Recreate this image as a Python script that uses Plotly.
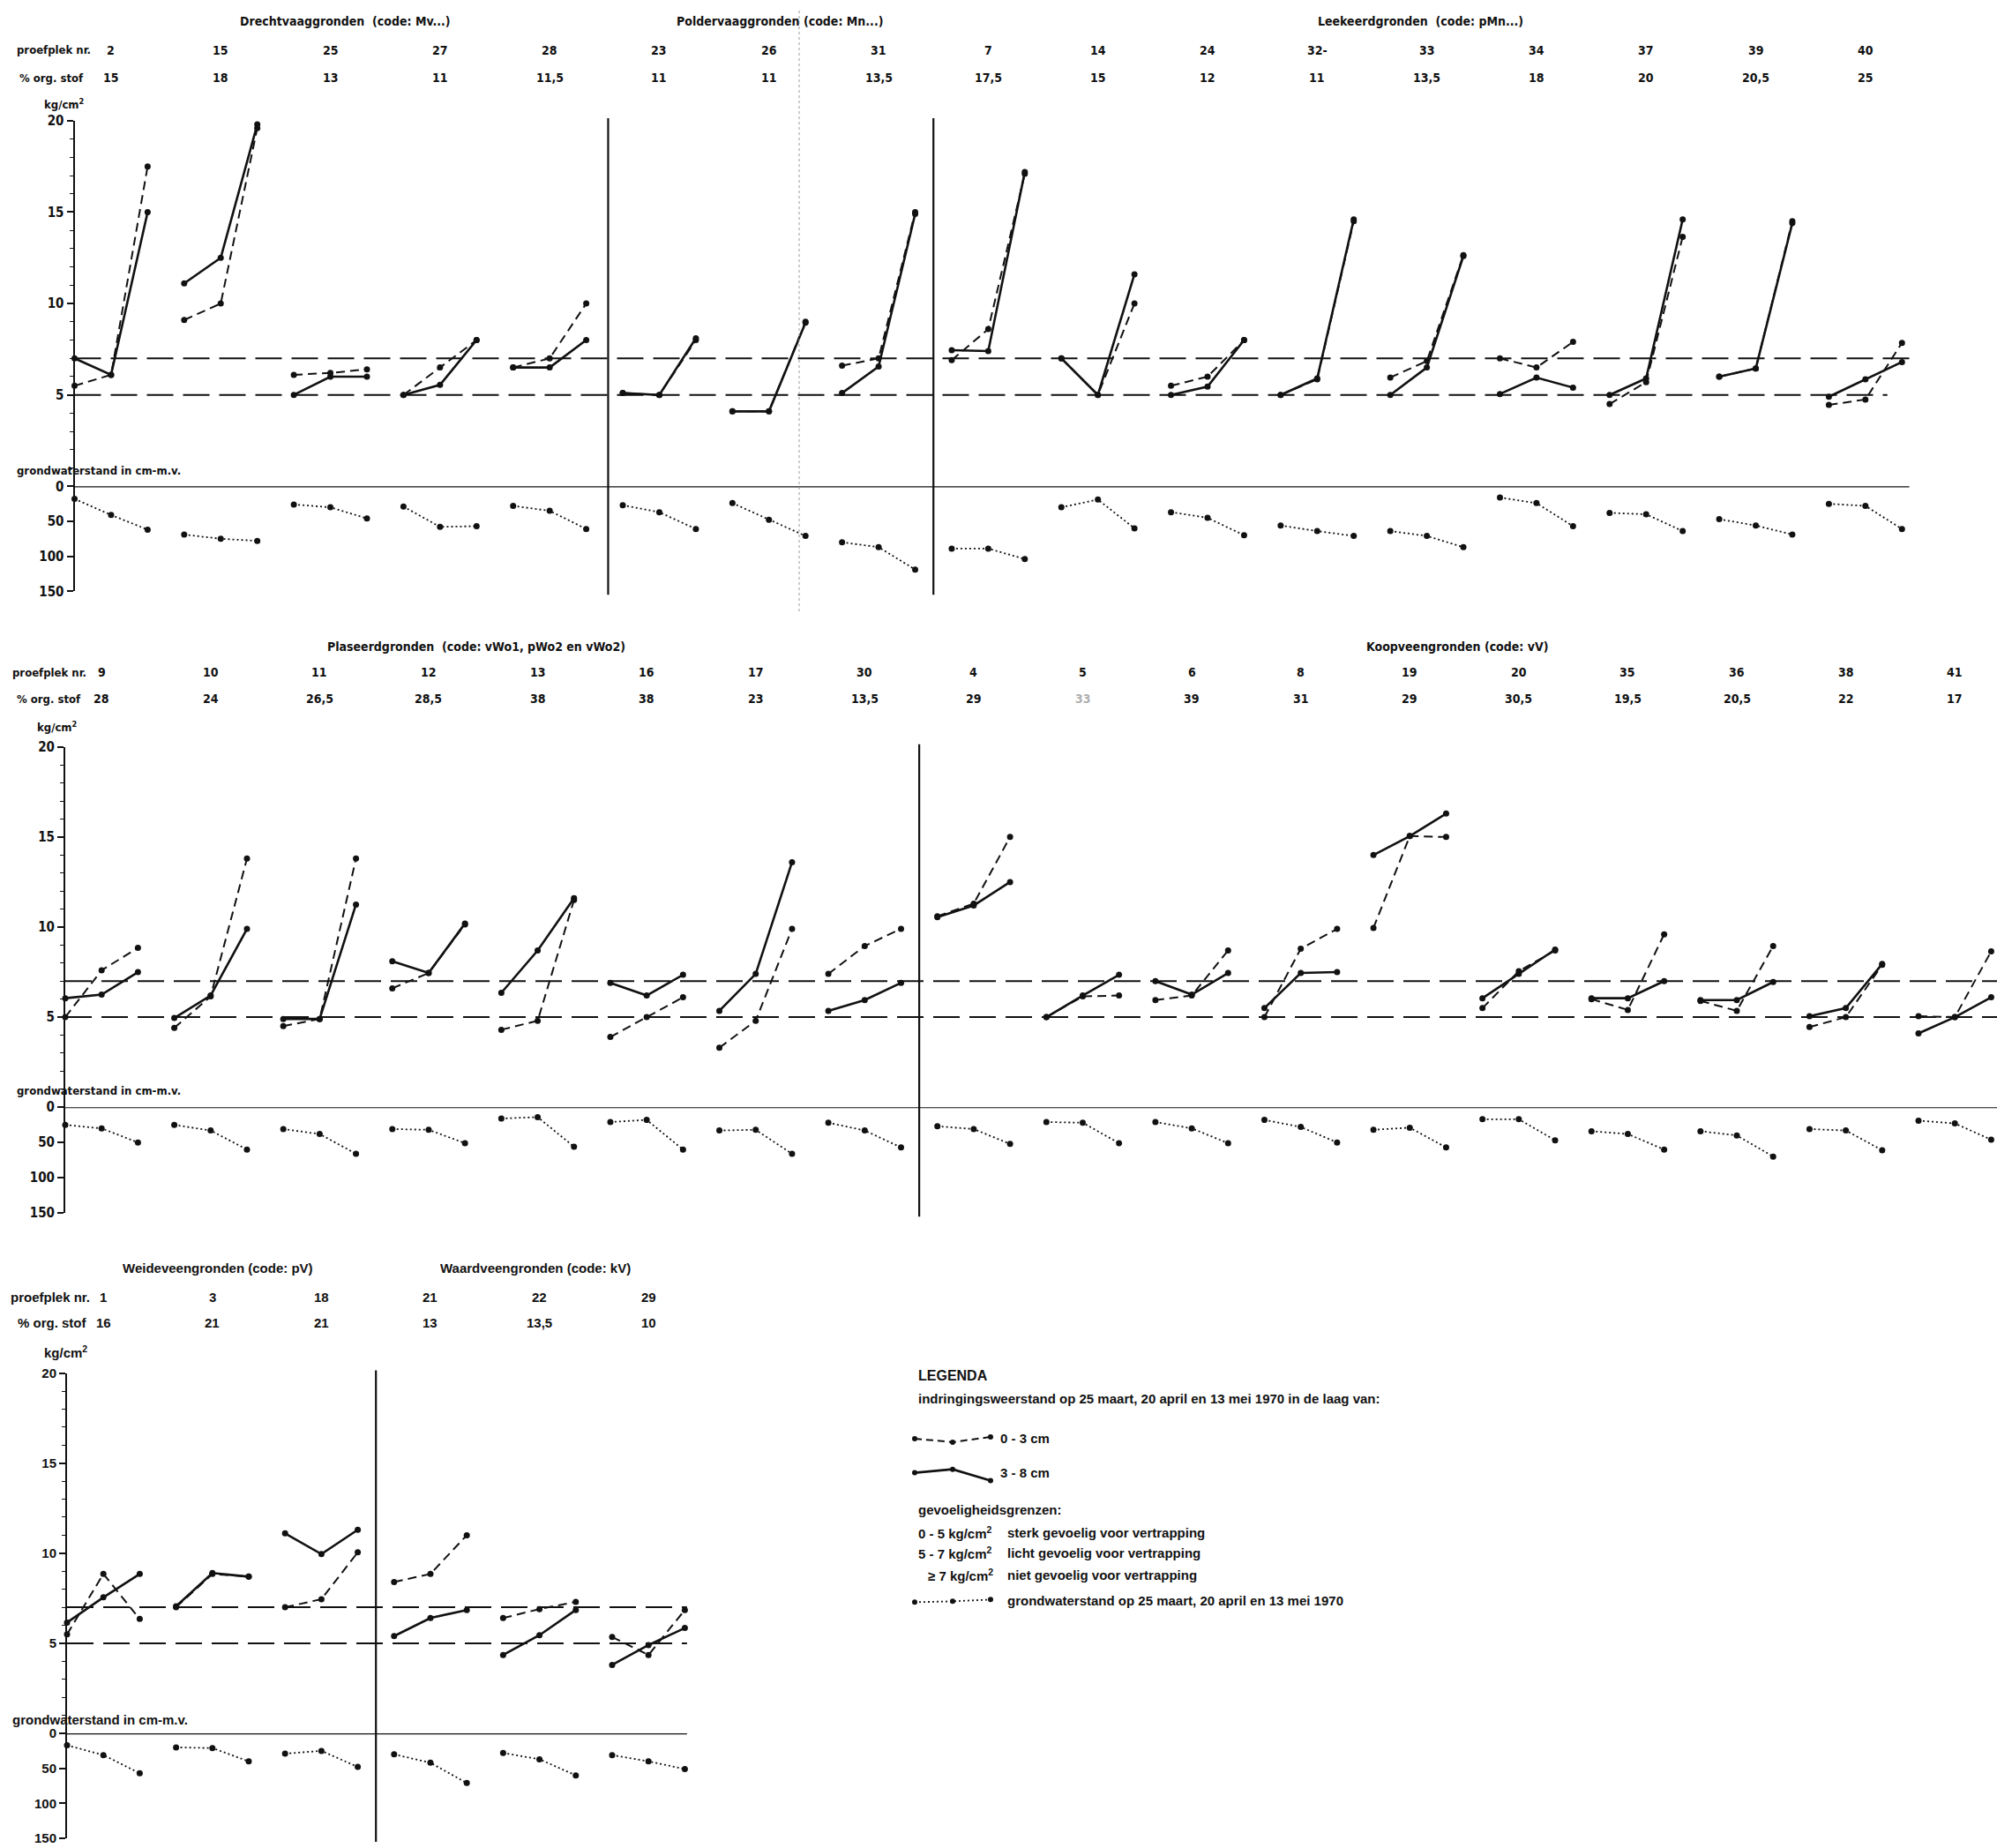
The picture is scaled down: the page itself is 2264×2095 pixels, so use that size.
import plotly.graph_objects as go

W, H = 2264, 2095

# ------------------------------------------------------------------ data
# three measuring dates per plot: 25 maart, 20 april, 13 mei 1970
DATES = [0, 1, 2]

# ---- panel 1: Drechtvaag-, Poldervaag-, Leekeerdgronden
P1_PLEK = ["2", "15", "25", "27", "28", "23", "26", "31", "7", "14", "24", "32-", "33", "34", "37", "39", "40"]
P1_ORG = ["15", "18", "13", "11", "11,5", "11", "11", "13,5", "17,5", "15", "12", "11", "13,5", "18", "20", "20,5", "25"]
P1_SHALLOW = [  # 0 - 3 cm, kg/cm2
    [5.5, 6.1, 17.5], [9.1, 10.0, 19.6], [6.1, 6.2, 6.4], [5.0, 6.5, 8.0], [6.5, 7.0, 10.0],
    [5.1, 5.0, 8.0], [4.1, 4.1, 9.0], [6.6, 7.0, 15.0],
    [6.9, 8.6, 17.1], [7.0, 5.0, 10.0], [5.5, 6.0, 8.0], [5.0, 5.85, 14.5], [5.95, 6.85, 12.65],
    [7.0, 6.5, 7.9], [4.5, 5.7, 13.65], [6.0, 6.45, 14.5], [4.45, 4.75, 7.85],
]
P1_DEEP = [  # 3 - 8 cm, kg/cm2
    [7.0, 6.1, 15.0], [11.1, 12.5, 19.8], [5.0, 6.0, 6.0], [5.0, 5.55, 8.0], [6.5, 6.5, 8.0],
    [5.1, 5.0, 8.1], [4.1, 4.1, 8.95], [5.1, 6.55, 14.9],
    [7.45, 7.4, 17.2], [7.0, 5.0, 11.6], [5.0, 5.45, 8.0], [5.0, 5.9, 14.6], [5.0, 6.5, 12.6],
    [5.05, 5.95, 5.4], [5.0, 5.9, 14.6], [6.0, 6.45, 14.4], [4.9, 5.85, 6.8],
]
P1_GW = [  # grondwaterstand, cm - m.v.
    [18, 41, 62], [69, 75, 78], [26, 30, 46], [29, 58, 57], [28, 35, 61],
    [27, 37, 61], [24, 48, 71], [80, 87, 119],
    [89, 89, 104], [30, 19, 60], [37, 45, 70], [56, 64, 71], [64, 71, 87],
    [16, 24, 57], [38, 40, 64], [47, 56, 69], [25, 28, 61],
]

# ---- panel 2: Plaseerd- en Koopveengronden
P2_PLEK = ["9", "10", "11", "12", "13", "16", "17", "30", "4", "5", "6", "8", "19", "20", "35", "36", "38", "41"]
P2_ORG = ["28", "24", "26,5", "28,5", "38", "38", "23", "13,5", "29", "33", "39", "31", "29", "30,5", "19,5", "20,5", "22", "17"]
P2_SHALLOW = [
    [5.0, 7.6, 8.85], [4.4, 6.15, 13.8], [4.5, 4.9, 13.8], [6.6, 7.45, 10.15], [4.3, 4.8, 11.5],
    [3.9, 5.0, 6.1], [3.3, 4.8, 9.9], [7.4, 8.95, 9.9],
    [10.6, 11.3, 15.0], [5.0, 6.15, 6.2], [5.95, 6.2, 8.7], [5.0, 8.8, 9.9], [9.95, 15.05, 15.0],
    [5.5, 7.55, 8.7], [6.0, 5.4, 9.6], [5.9, 5.35, 8.95], [4.45, 5.0, 7.9], [5.05, 5.0, 8.65],
]
P2_DEEP = [
    [6.05, 6.25, 7.5], [4.95, 6.2, 9.9], [4.9, 4.9, 11.25], [8.1, 7.45, 10.2], [6.35, 8.7, 11.6],
    [6.9, 6.2, 7.35], [5.35, 7.4, 13.6], [5.35, 5.95, 6.9],
    [10.55, 11.2, 12.5], [5.0, 6.2, 7.35], [7.0, 6.25, 7.45], [5.5, 7.45, 7.5], [14.0, 15.05, 16.3],
    [6.05, 7.4, 8.75], [6.05, 6.05, 7.0], [5.95, 5.95, 6.95], [5.05, 5.5, 7.95], [4.1, 5.0, 6.1],
]
P2_GW = [
    [25, 30, 50], [25, 33, 60], [31, 38, 66], [31, 32, 51], [16, 14, 56],
    [21, 18, 60], [33, 32, 66], [22, 33, 57],
    [27, 31, 52], [21, 22, 51], [21, 30, 51], [18, 28, 50], [32, 29, 57],
    [17, 17, 47], [34, 38, 60], [34, 40, 70], [31, 33, 61], [19, 23, 46],
]

# ---- panel 3: Weideveen- en Waardveengronden
P3_PLEK = ["1", "3", "18", "21", "22", "29"]
P3_ORG = ["16", "21", "21", "13", "13,5", "10"]
P3_SHALLOW = [
    [5.5, 8.85, 6.35], [7.0, 8.85, 8.7], [7.0, 7.45, 10.05],
    [8.4, 8.85, 11.0], [6.4, 6.9, 7.3], [5.35, 4.35, 6.85],
]
P3_DEEP = [
    [6.15, 7.55, 8.85], [7.05, 8.9, 8.7], [11.1, 9.95, 11.3],
    [5.4, 6.4, 6.85], [4.35, 5.45, 6.85], [3.8, 4.9, 5.85],
]
P3_GW = [
    [17, 31, 57], [20, 21, 40], [29, 25, 48],
    [30, 42, 71], [28, 37, 60], [31, 40, 51],
]

THRESHOLDS = [5, 7]          # gevoeligheidsgrenzen, kg/cm2
KG_TICKS = [5, 10, 15, 20]
GW_TICKS = [0, 50, 100, 150]

# ------------------------------------------------------------------ styling
COND = "Liberation Sans Narrow, DejaVu Sans Condensed, Arial Narrow, Liberation Sans, sans-serif"
WIDE = "Liberation Sans, Arial, Helvetica, sans-serif"
BLACK = "#111111"


def PX(x):
    return x / W


def PY(y):
    return 1 - y / H


def series(groups):
    xs, ys = [], []
    for g, vals in enumerate(groups):
        for d, v in zip(DATES, vals):
            xs.append(3 * g + d)
            ys.append(v)
        xs.append(None)
        ys.append(None)
    return xs, ys


fig = go.Figure()
shapes = []
annotations = []


def text(x, y, s, size, family, xanchor="left", color=BLACK, xref="paper", xv=None):
    annotations.append(dict(
        x=xv if xv is not None else PX(x), y=PY(y), xref=xref, yref="paper", text=s,
        showarrow=False, xanchor=xanchor, yanchor="middle",
        font=dict(size=size, family=family, color=color)))


# panel layout (pixel positions in the 2264x2095 page)
PANELS = [
    dict(name="1", xa="x", ya="y", yb="y2", xkey="xaxis", yakey="yaxis", ybkey="yaxis2",
         left=84.5, right=2264, xmax=52.6, top=129, zero=547, bottom=667,
         plek=P1_PLEK, org=P1_ORG, sh=P1_SHALLOW, dp=P1_DEEP, gw=P1_GW,
         line_end=50.2, line5_end=49.6, seps=[14.6, 23.5], font=COND,
         tsize=14, lsize=13, nsize=14, ksize=15,
         titles=[(391, "Drechtvaaggronden  (code: Mv...)"), (884, "Poldervaaggronden (code: Mn...)"),
                 (1611, "Leekeerdgronden  (code: pMn...)")],
         title_y=15, plek_y=48, org_y=80, lab_x=17, org_x=20,
         kg_label=(72, 110), gw_label=(17, 529)),
    dict(name="2", xa="x2", ya="y3", yb="y4", xkey="xaxis2", yakey="yaxis3", ybkey="yaxis4",
         left=74, right=2264, xmax=53.16, top=845, zero=1257, bottom=1378,
         plek=P2_PLEK, org=P2_ORG, sh=P2_SHALLOW, dp=P2_DEEP, gw=P2_GW,
         line_end=53.16, line5_end=53.16, seps=[23.5], font=COND,
         tsize=14, lsize=13, nsize=14, ksize=15,
         titles=[(540, "Plaseerdgronden  (code: vWo1, pWo2 en vWo2)"), (1652, "Koopveengronden (code: vV)")],
         title_y=730, plek_y=760, org_y=790, lab_x=12, org_x=17,
         kg_label=(64, 822), gw_label=(17, 1238)),
    dict(name="3", xa="x3", ya="y5", yb="y6", xkey="xaxis3", yakey="yaxis5", ybkey="yaxis6",
         left=76, right=780.5, xmax=17.1, top=1561, zero=1973, bottom=2093,
         plek=P3_PLEK, org=P3_ORG, sh=P3_SHALLOW, dp=P3_DEEP, gw=P3_GW,
         line_end=17.06, line5_end=17.06, seps=[8.5], font=WIDE,
         tsize=15, lsize=15, nsize=15, ksize=15,
         titles=[(247, "Weideveengronden (code: pV)"), (607, "Waardveengronden (code: kV)")],
         title_y=1441, plek_y=1474, org_y=1503, lab_x=10, org_x=18,
         kg_label=(74, 1537), gw_label=(12, 1957)),
]

layout_axes = {}
for p in PANELS:
    f = p["font"]
    # data traces
    xs, ys = series(p["sh"])
    fig.add_trace(go.Scatter(x=xs, y=ys, xaxis=p["xa"], yaxis=p["ya"], mode="lines+markers",
                             line=dict(color=BLACK, width=2, dash="10px,6px"),
                             marker=dict(size=7, color=BLACK), cliponaxis=False,
                             showlegend=False, hoverinfo="skip"))
    xs, ys = series(p["dp"])
    fig.add_trace(go.Scatter(x=xs, y=ys, xaxis=p["xa"], yaxis=p["ya"], mode="lines+markers",
                             line=dict(color=BLACK, width=2.6),
                             marker=dict(size=7, color=BLACK), cliponaxis=False,
                             showlegend=False, hoverinfo="skip"))
    xs, ys = series(p["gw"])
    fig.add_trace(go.Scatter(x=xs, y=ys, xaxis=p["xa"], yaxis=p["yb"], mode="lines+markers",
                             line=dict(color=BLACK, width=1.8, dash="2px,3px"),
                             marker=dict(size=7, color=BLACK), cliponaxis=False,
                             showlegend=False, hoverinfo="skip"))

    # axes
    layout_axes[p["xkey"]] = dict(domain=[PX(p["left"]), PX(p["right"])], range=[0, p["xmax"]],
                                  visible=False, anchor=p["ya"], fixedrange=True)
    tickfont = dict(size=p["ksize"], family=f, color=BLACK)
    layout_axes[p["yakey"]] = dict(
        domain=[PY(p["zero"]), PY(p["top"])], range=[0, 20], anchor=p["xa"],
        showline=True, linecolor=BLACK, linewidth=2, ticks="outside", ticklen=7, tickwidth=2,
        tickcolor=BLACK, tickvals=KG_TICKS, ticktext=[f"<b>{v}</b>" for v in KG_TICKS],
        tickfont=tickfont, showgrid=False, zeroline=False, fixedrange=True,
        minor=dict(dtick=1, ticklen=4, tickwidth=1, tickcolor=BLACK, ticks="outside", showgrid=False))
    layout_axes[p["ybkey"]] = dict(
        domain=[PY(p["bottom"]), PY(p["zero"])], range=[150, 0], anchor=p["xa"],
        showline=True, linecolor=BLACK, linewidth=2, ticks="outside", ticklen=7, tickwidth=2,
        tickcolor=BLACK, tickvals=GW_TICKS, ticktext=[f"<b>{v}</b>" for v in GW_TICKS],
        tickfont=tickfont, showgrid=False, zeroline=False, fixedrange=True)

    # ground water 0-line
    shapes.append(dict(type="line", xref=p["xa"], yref=p["yb"], x0=0, x1=p["line_end"], y0=0, y1=0,
                       line=dict(color=BLACK, width=2.2)))
    # sensitivity limits
    for thr, xe in zip(THRESHOLDS, [p["line5_end"], p["line_end"]]):
        shapes.append(dict(type="line", xref=p["xa"], yref=p["ya"], x0=0, x1=xe, y0=thr, y1=thr,
                           line=dict(color=BLACK, width=2, dash="30px,11px")))
    # separators between soil groups
    for s in p["seps"]:
        shapes.append(dict(type="line", xref=p["xa"], yref="paper", x0=s, x1=s,
                           y0=PY(p["bottom"] + 4), y1=PY(p["top"] - 3),
                           line=dict(color=BLACK, width=2.2)))

    # header texts
    for cx, t in p["titles"]:
        text(cx, p["title_y"], f"<b>{t}</b>", p["tsize"], f, xanchor="center")
    text(p["lab_x"], p["plek_y"], "<b>proefplek nr.</b>", p["lsize"], f)
    text(p["org_x"], p["org_y"], "<b>% org. stof</b>", p["lsize"], f)
    for g, (pl, og) in enumerate(zip(p["plek"], p["org"])):
        text(0, p["plek_y"], f"<b>{pl}</b>", p["nsize"], f, xanchor="center", xref=p["xa"], xv=3 * g + 1)
        col = "#b0b0b0" if (p["name"] == "2" and pl == "5") else BLACK
        text(0, p["org_y"], f"<b>{og}</b>", p["nsize"], f, xanchor="center", xref=p["xa"], xv=3 * g + 1, color=col)
    kx, ky = p["kg_label"]
    text(kx, ky, "<b>kg/cm<sup>2</sup></b>", p["lsize"], f, xanchor="center")
    gx, gy = p["gw_label"]
    text(gx, gy, "<b>grondwaterstand in cm-m.v.</b>", p["lsize"], f)

# faint fold line of the scanned original
shapes.append(dict(type="line", xref="paper", yref="paper", x0=PX(906), x1=PX(906),
                   y0=PY(690), y1=PY(0), line=dict(color="#9a9a9a", width=1, dash="dot")))

# ------------------------------------------------------------------ legend
LEG_X = [1037, 1080, 1123]
LEG_SHALLOW_Y = [1636, 1640, 1634]
LEG_DEEP_Y = [1675, 1671, 1684]
LEG_GW_Y = [1823, 1822, 1820]

layout_axes["xaxis4"] = dict(domain=[0, 1], range=[0, W], visible=False, anchor="y7", fixedrange=True)
layout_axes["yaxis7"] = dict(domain=[0, 1], range=[H, 0], visible=False, anchor="x4", fixedrange=True)
for ys_, ln in [(LEG_SHALLOW_Y, dict(color=BLACK, width=2, dash="8px,5px")),
                (LEG_DEEP_Y, dict(color=BLACK, width=2.6)),
                (LEG_GW_Y, dict(color=BLACK, width=1.8, dash="2px,3px"))]:
    fig.add_trace(go.Scatter(x=LEG_X, y=ys_, xaxis="x4", yaxis="y7", mode="lines+markers",
                             line=ln, marker=dict(size=6, color=BLACK), cliponaxis=False,
                             showlegend=False, hoverinfo="skip"))

LF = 15
text(1039, 1564, "<b>LEGENDA</b>", 16, WIDE)
text(1039, 1590, "<b>indringingsweerstand op 25 maart, 20 april en 13 mei 1970 in de laag van:</b>", LF, WIDE)
text(1132, 1636, "<b>0 - 3 cm</b>", LF, WIDE)
text(1132, 1675, "<b>3 - 8 cm</b>", LF, WIDE)
text(1039, 1717, "<b>gevoeligheidsgrenzen:</b>", LF, WIDE)
text(1039, 1743, "<b>0 - 5 kg/cm<sup>2</sup></b>", LF, WIDE)
text(1140, 1743, "<b>sterk gevoelig voor vertrapping</b>", LF, WIDE)
text(1039, 1767, "<b>5 - 7 kg/cm<sup>2</sup></b>", LF, WIDE)
text(1140, 1767, "<b>licht gevoelig voor vertrapping</b>", LF, WIDE)
text(1050, 1792, "<b>≥ 7 kg/cm<sup>2</sup></b>", LF, WIDE)
text(1140, 1792, "<b>niet gevoelig voor vertrapping</b>", LF, WIDE)
text(1140, 1821, "<b>grondwaterstand op 25 maart, 20 april en 13 mei 1970</b>", LF, WIDE)

fig.update_layout(
    width=W, height=H, margin=dict(l=0, r=0, t=0, b=0),
    paper_bgcolor="white", plot_bgcolor="rgba(0,0,0,0)",
    showlegend=False, shapes=shapes, annotations=annotations,
    **layout_axes,
)

fig.write_html("out.html", config={"displayModeBar": False},
               post_script="document.body.style.margin='0';document.body.style.overflow='hidden';")
